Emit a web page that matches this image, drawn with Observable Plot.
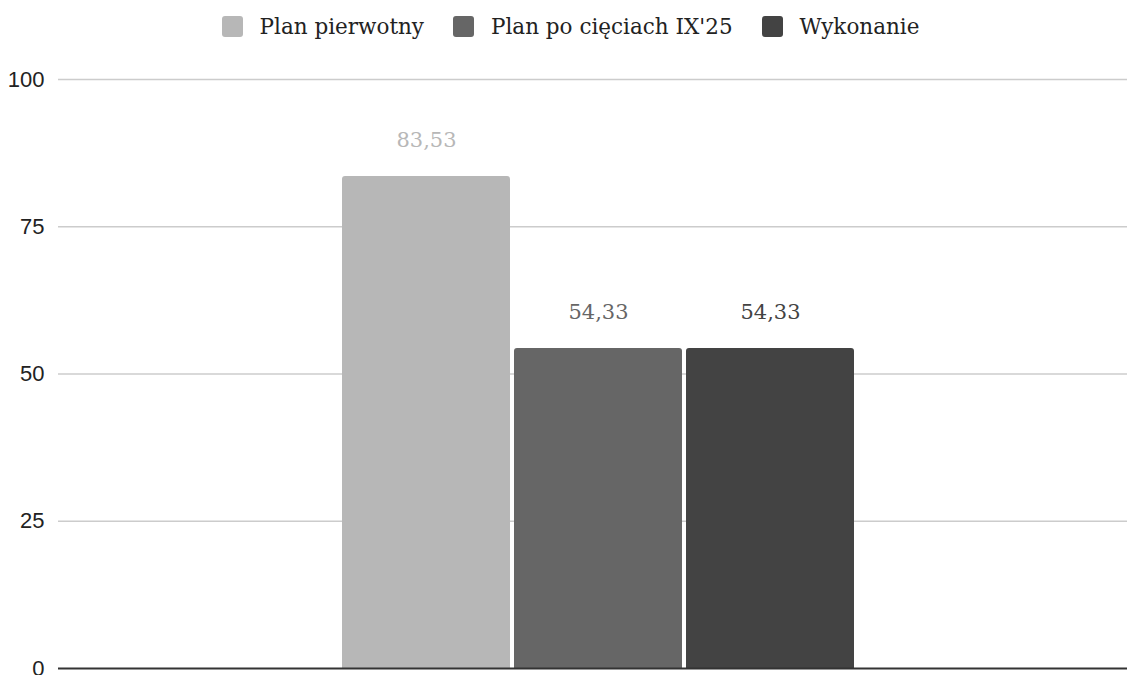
<!DOCTYPE html>
<html>
<head>
<meta charset="utf-8">
<script src="https://cdn.jsdelivr.net/npm/d3@7"></script>
<script src="https://cdn.jsdelivr.net/npm/@observablehq/plot@0.6"></script>
<style>
  html, body { margin: 0; padding: 0; background: #fff; }
  #legend { height: 52px; display: flex; justify-content: center; align-items: center; gap: 29px; font-family: "DejaVu Serif", serif; font-size: 21.5px; color: #222; padding-left: 14px; box-sizing: border-box; }
  .item { display: flex; align-items: center; gap: 17px; }
  .sw { width: 21px; height: 21px; border-radius: 3px; }
  #chart svg { overflow: visible; display: block; }
</style>
</head>
<body>
<div id="legend"></div>
<div id="chart"></div>
<script>
const series = ["Plan pierwotny", "Plan po cięciach IX'25", "Wykonanie"];
const values = [83.53, 54.33, 54.33];
const colors = ["#b7b7b7", "#666666", "#434343"];
const labelColors = ["#b7b7b7", "#666666", "#434343"];
const yTicks = [0, 25, 50, 75, 100];

const data = series.map((s, i) => ({ series: s, value: values[i], label: values[i].toFixed(2).replace(".", ",") }));

const legend = document.getElementById("legend");
series.forEach((s, i) => {
  const it = document.createElement("div");
  it.className = "item";
  it.innerHTML = `<div class="sw" style="background:${colors[i]}"></div><span>${s}</span>`;
  legend.appendChild(it);
});

const chart = Plot.plot({
  width: 1127,
  height: 623,
  marginLeft: 58,
  marginRight: 0,
  marginTop: 27,
  marginBottom: 7,
  style: { fontFamily: "Liberation Sans, Arial, sans-serif", fontSize: "22px", color: "#222", background: "#fff" },
  x: { domain: series, range: [341, 854], paddingInner: 0.024, paddingOuter: 0, axis: null },
  y: { domain: [0, 100], ticks: yTicks, tickSize: 0, tickPadding: 14, label: null, tickFormat: d => String(d) },
  color: { domain: series, range: colors },
  marks: [
    Plot.ruleY(yTicks.filter(d => d > 0), { stroke: "#cccccc", strokeWidth: 1.3 }),
    Plot.barY(data, { x: "series", y: "value", fill: "series", rx: 3, insetBottom: -6, clip: "frame" }),
    Plot.ruleY([0], { stroke: "#333333", strokeWidth: 2 }),
    Plot.text(data, { x: "series", y: "value", text: "label", dy: -36, fill: (d, i) => labelColors[i], fontFamily: "DejaVu Serif, serif", fontSize: 21 })
  ]
});
document.getElementById("chart").appendChild(chart);
</script>
</body>
</html>
